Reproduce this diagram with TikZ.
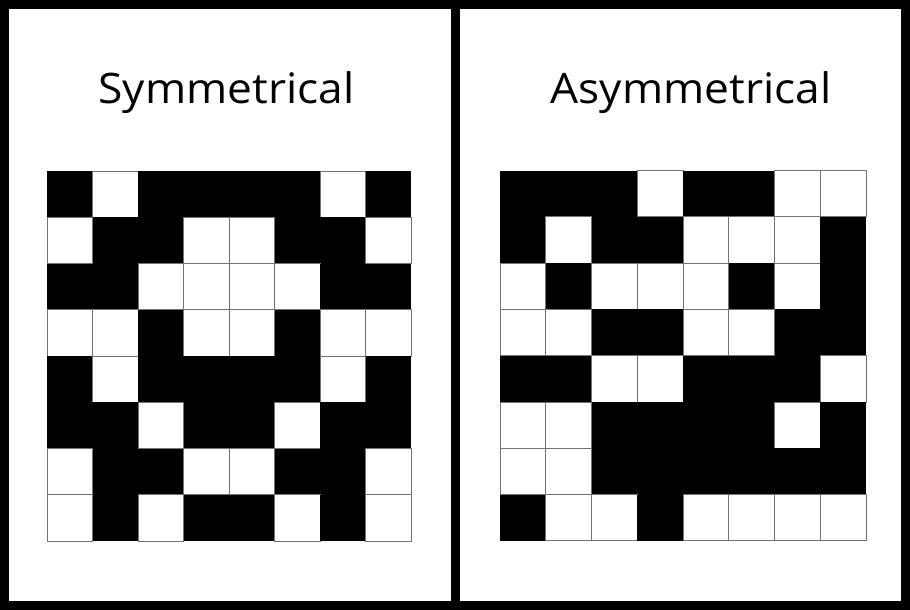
\documentclass[tikz,border=0pt]{standalone}
\usepackage{fontspec}
\setmainfont{Open Sans}
\newcommand\drawcellgrid[5]{%
  \foreach \rowv [count=\r from 0] in {#5} {%
    \foreach \v [count=\c from 0] in \rowv {%
      \pgfmathsetmacro\xa{#1+\c*#3}%
      \pgfmathsetmacro\ya{#2+\r*#4}%
      \pgfmathsetmacro\xb{#1+(\c+1)*#3}%
      \pgfmathsetmacro\yb{#2+(\r+1)*#4}%
      \ifnum\v=1
        \fill[black] (\xa,\ya) rectangle (\xb,\yb);
      \else
        \draw[cellline] (\xa,\ya) rectangle (\xb,\yb);
      \fi
    }%
  }%
}
\newcommand\wtitle[1]{\scalebox{1.055}[1]{#1}}
\begin{document}
\begin{tikzpicture}[x=1pt,y=-1pt,
  cellline/.style={draw=black!55,line width=0.9pt},
  frame/.style={draw=black,line width=9pt},
  title/.style={anchor=base,inner sep=0pt,font=\fontsize{42}{50}\selectfont}]
\useasboundingbox (0,0) rectangle (910,610);
\fill[white] (0,0) rectangle (910,610);
\drawcellgrid{47}{171}{45.5}{46.25}{%
  {1,0,1,1,1,1,0,1},%
  {0,1,1,0,0,1,1,0},%
  {1,1,0,0,0,0,1,1},%
  {0,0,1,0,0,1,0,0},%
  {1,0,1,1,1,1,0,1},%
  {1,1,0,1,1,0,1,1},%
  {0,1,1,0,0,1,1,0},%
  {0,1,0,1,1,0,1,0}}
\drawcellgrid{500}{170.5}{45.75}{46.3}{%
  {1,1,1,0,1,1,0,0},%
  {1,0,1,1,0,0,0,1},%
  {0,1,0,0,0,1,0,1},%
  {0,0,1,1,0,0,1,1},%
  {1,1,0,0,1,1,1,0},%
  {0,0,1,1,1,1,0,1},%
  {0,0,1,1,1,1,1,1},%
  {1,0,0,1,0,0,0,0}}
\draw[frame] (4.5,4.5) rectangle (905.5,605.5);
\draw[frame] (455,4.5) -- (455,605.5);
\node[title] (symt) at (226.5,103) {\wtitle{Symmetrical}};
\node[title] (asymt) at (691,103) {\wtitle{Asymmetrical}};
\end{tikzpicture}
\end{document}
